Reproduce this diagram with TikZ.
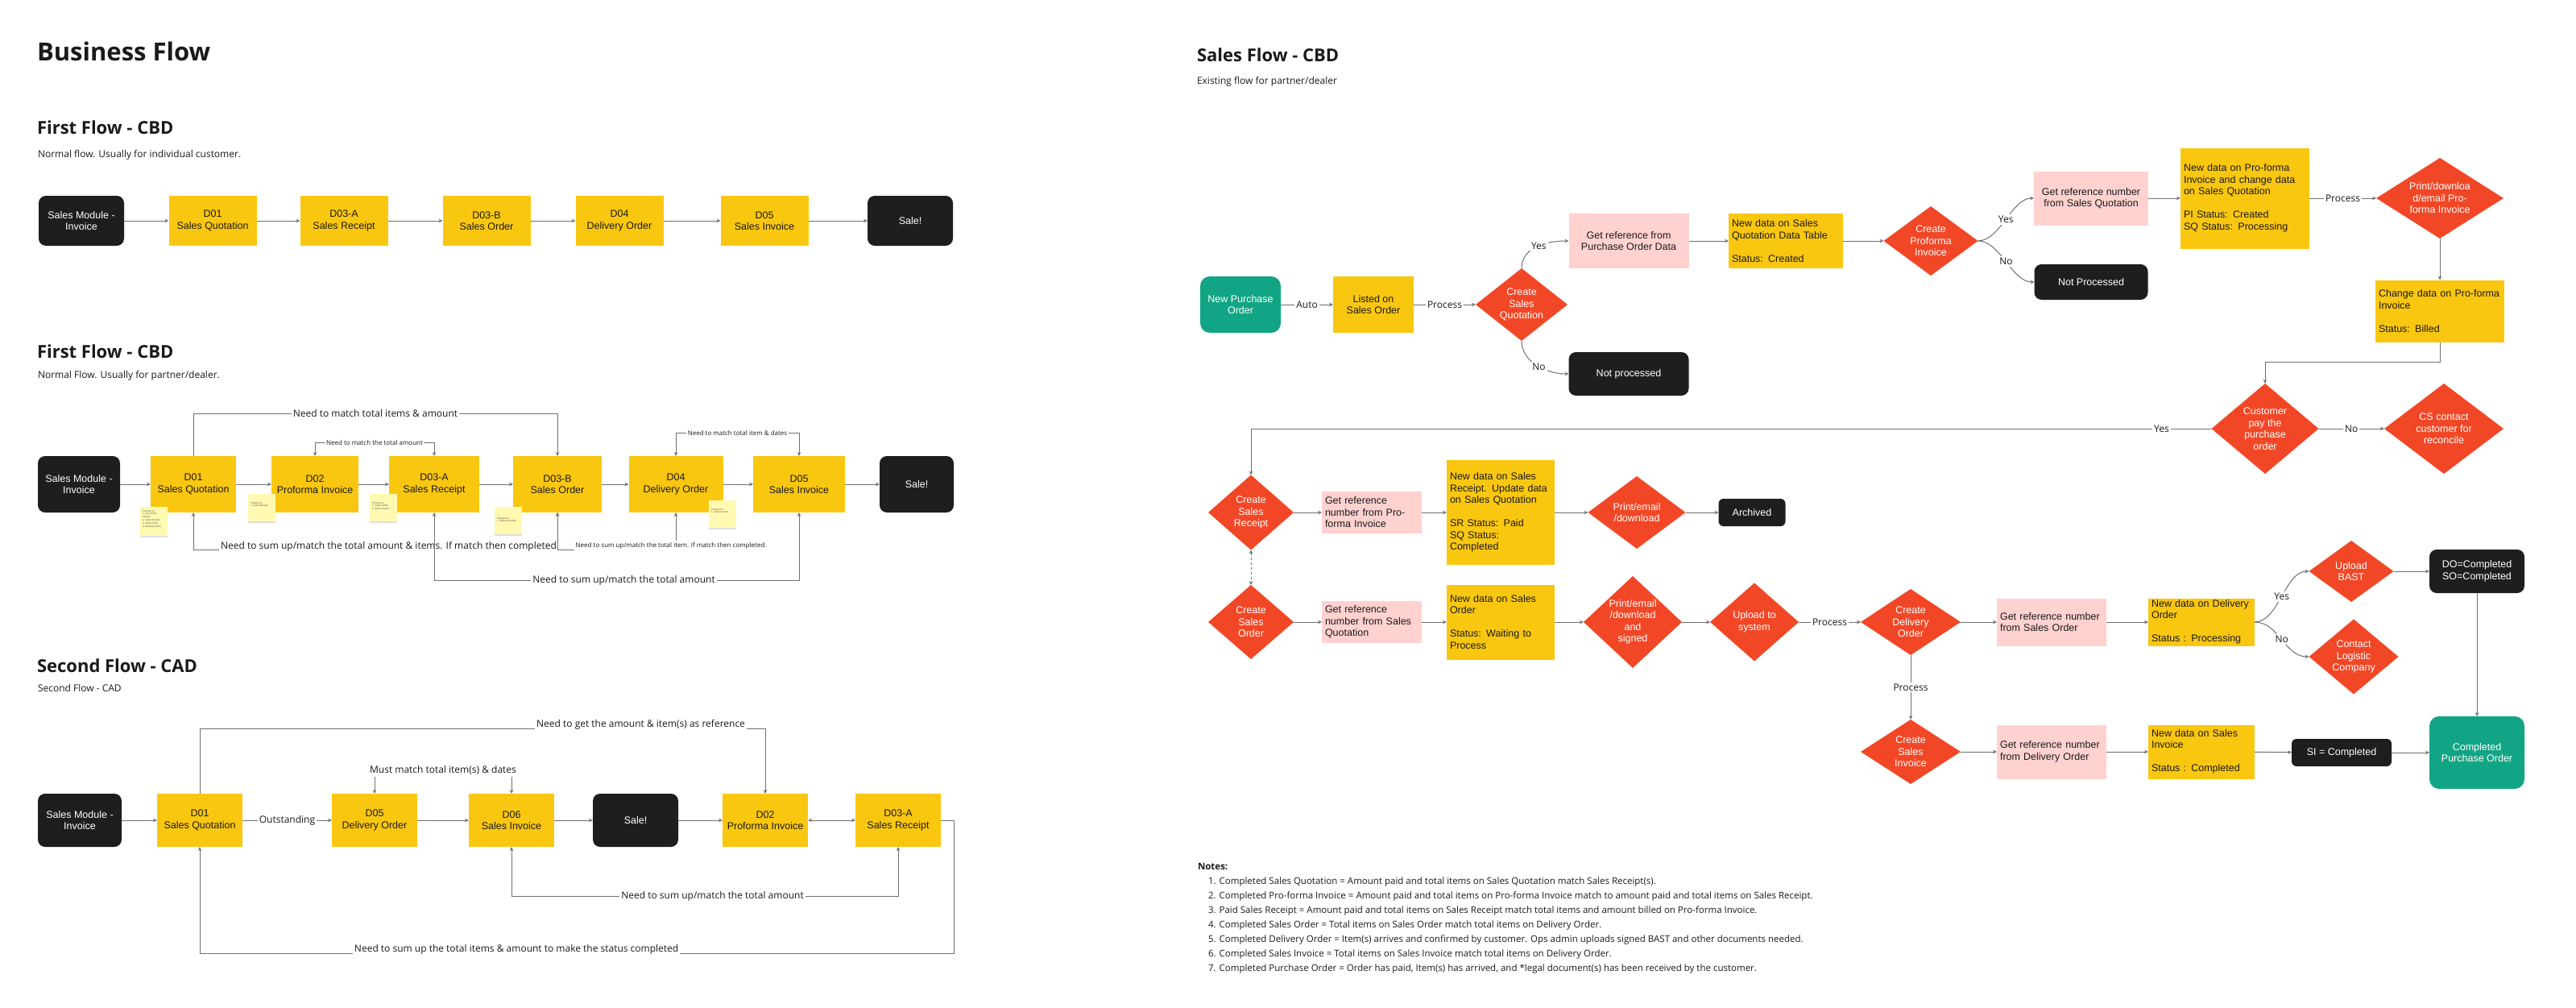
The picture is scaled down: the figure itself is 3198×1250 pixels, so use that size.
\documentclass[tikz,border=0pt]{standalone}
\usepackage{fontspec}
\setmainfont{Open Sans}
\newfontfamily\nf{Liberation Sans}
\usetikzlibrary{shapes.geometric,arrows.meta,shadows}
\definecolor{yel}{HTML}{FAC710}
\definecolor{blk}{HTML}{1E1E1E}
\definecolor{redc}{HTML}{F24726}
\definecolor{pinkc}{HTML}{FFD2D0}
\definecolor{tealc}{HTML}{12A585}
\definecolor{stkc}{HTML}{FFF9B1}
\definecolor{lnc}{HTML}{707070}
\definecolor{txc}{HTML}{1A1A1A}
\newcommand\Dmd[6]{%
  \node[dia, minimum width=#4pt, minimum height=#5pt] (#1) at (#2,#3) {};
  \node[dtx] at (#1.center) {#6};}
\begin{document}
\begin{tikzpicture}[x=1pt,y=-1pt,
 every node/.style={inner sep=0pt,outer sep=0pt},
 nt/.style={font=\nf\fontsize{12.5}{14.5}\selectfont,text=txc},
 sz/.style 2 args={minimum width=#1pt,minimum height=#2pt},
 yb/.style={nt,fill=yel,align=center},
 bk/.style={nt,fill=blk,text=white,rounded corners=9pt,align=center},
 pk/.style={nt,fill=pinkc,align=center},
 tl/.style={nt,fill=tealc,text=white,rounded corners=12pt,align=center},
 lft/.style={align=left,inner xsep=4pt},
 dia/.style={diamond,fill=redc,inner sep=0pt},
 dtx/.style={nt,text=white,align=center},
 stk/.style={fill=stkc,drop shadow={shadow xshift=0pt,shadow yshift=-2pt,opacity=.25}},
 stx/.style={font=\fontsize{3}{3.8}\selectfont,align=left,text=black!75},
 ar/.style={draw=lnc,line width=1pt,-{Stealth[length=5pt,width=4.5pt]}},
 arr/.style={draw=lnc,line width=1pt,{Stealth[length=5pt,width=4.5pt]}-{Stealth[length=5pt,width=4.5pt]}},
 lab/.style={fill=white,inner sep=2pt,text=txc,font=\fontsize{12}{14}\selectfont},
 slab/.style={fill=white,inner sep=1.5pt,text=txc,font=\fontsize{8}{10}\selectfont},
 ttl/.style={anchor=base west,text=txc,font=\bfseries\fontsize{22}{26}\selectfont},
 sub/.style={anchor=base west,text=txc,font=\fontsize{12}{14}\selectfont},
 nts/.style={anchor=base west,text=txc,font=\fontsize{11.5}{14}\selectfont},
]
\fill[white] (0,0) rectangle (3198,1250);
\useasboundingbox (0,0) rectangle (3198,1250);

% ---------- titles
\node[ttl,font=\bfseries\fontsize{31}{36}\selectfont] (t0) at (46,75) {Business Flow};
\node[ttl] (t1) at (46,166) {First Flow - CBD};
\node[sub] (s1) at (47,195) {Normal flow. Usually for individual customer.};
\node[ttl] (t2) at (46,444) {First Flow - CBD};
\node[sub] (s2) at (47,469) {Normal Flow. Usually for partner/dealer.};
\node[ttl] (t3) at (46,834) {Second Flow - CAD};
\node[sub] (s3) at (47,858) {Second Flow - CAD};
\node[ttl] (t4) at (1486,76) {Sales Flow - CBD};
\node[sub] (s4) at (1486,104) {Existing flow for partner/dealer};

% ---------- row 1
\node[bk,sz={106}{62}] (a0) at (101,274) {Sales Module -\\Invoice};
\node[yb,sz={109}{62}] (a1) at (264,274) {D01\\Sales Quotation};
\node[yb,sz={109}{62}] (a2) at (427,274) {D03-A\\Sales Receipt};
\node[yb,sz={109}{62}] (a3) at (604,274) {D03-B\\Sales Order};
\node[yb,sz={109}{62}] (a4) at (769,274) {D04\\Delivery Order};
\node[yb,sz={109}{62}] (a5) at (949,274) {D05\\Sales Invoice};
\node[bk,sz={106}{62}] (a6) at (1130,274) {Sale!};
\foreach \p/\q in {a0/a1,a1/a2,a2/a3,a3/a4,a4/a5,a5/a6} \draw[ar] (\p) -- (\q);

% ---------- row 2
\node[bk,sz={102}{70}] (b0) at (98,601) {Sales Module -\\Invoice};
\node[yb,sz={106}{70}] (b1) at (240,601) {D01\\Sales Quotation};
\node[yb,sz={108}{70}] (b2) at (391,601) {D02\\Proforma Invoice};
\node[yb,sz={112}{70}] (b3) at (539,601) {D03-A\\Sales Receipt};
\node[yb,sz={110}{70}] (b4) at (692,601) {D03-B\\Sales Order};
\node[yb,sz={117}{70}] (b5) at (839,601) {D04\\Delivery Order};
\node[yb,sz={114}{70}] (b6) at (992,601) {D05\\Sales Invoice};
\node[bk,sz={92}{70}] (b7) at (1138,601) {Sale!};
\foreach \p/\q in {b0/b1,b1/b2,b2/b3,b3/b4,b4/b5,b5/b6,b6/b7} \draw[ar] (\p) -- (\q);
\draw[ar] (b1.north) -- ++(0,-53) -| node[lab,pos=.25]{Need to match total items \& amount} (b4.north);
\draw[arr] (b2.north) -- ++(0,-17) -| node[slab,pos=.25]{Need to match the total amount} (b3.north);
\draw[arr] (b5.north) -- ++(0,-29) -| node[slab,pos=.25]{Need to match total item \& dates} (b6.north);
\draw[arr] (b1.south) -- ++(0,46) -| node[lab,pos=.27,yshift=4pt]{Need to sum up/match the total amount \& items. If match then completed.} (b4.south);
\draw[arr] (b4.south) -- ++(0,46) -| node[slab,pos=.48,yshift=5pt]{Need to sum up/match the total item. If match then completed.} (b5.south);
\draw[arr] (b3.south) -- ++(0,84) -| node[lab,pos=.26]{Need to sum up/match the total amount} (b6.south);
% sticky notes
\node[stk,sz={34}{36}] (k1) at (191,647) {};
\node[stx,anchor=north west] at ([shift={(3,4)}]k1.north west) {Process to:\\1. pro forma\\invoice\\2. sales receipt\\3. sales order\\4. delivery order};
\node[stk,sz={34}{34}] (k2) at (325,630) {};
\node[stx,anchor=north west] at ([shift={(3,10)}]k2.north west) {Process to:\\1. Sales Receipt};
\node[stk,sz={34}{34}] (k3) at (476,630) {};
\node[stx,anchor=north west] at ([shift={(3,10)}]k3.north west) {Process to:\\1. Sales Order\\2. Sales Invoice};
\node[stk,sz={34}{34}] (k4) at (631,646) {};
\node[stx,anchor=north west] at ([shift={(3,13)}]k4.north west) {Process to:\\1. Delivery Order};
\node[stk,sz={34}{34}] (k5) at (897,638) {};
\node[stx,anchor=north west] at ([shift={(3,10)}]k5.north west) {Process to:\\1. Sales Invoice};

% ---------- second flow
\node[bk,sz={104}{66}] (c0) at (99,1018) {Sales Module -\\Invoice};
\node[yb,sz={106}{66}] (c1) at (248,1018) {D01\\Sales Quotation};
\node[yb,sz={106}{66}] (c2) at (465,1018) {D05\\Delivery Order};
\node[yb,sz={106}{66}] (c3) at (635,1018) {D06\\Sales Invoice};
\node[bk,sz={106}{66}] (c4) at (789,1018) {Sale!};
\node[yb,sz={106}{66}] (c5) at (950,1018) {D02\\Proforma Invoice};
\node[yb,sz={106}{66}] (c6) at (1115,1018) {D03-A\\Sales Receipt};
\draw[ar] (c0) -- (c1);
\draw[ar] (c1) -- node[lab]{Outstanding} (c2);
\draw[ar] (c2) -- (c3);
\draw[ar] (c3) -- (c4);
\draw[ar] (c4) -- (c5);
\draw[arr] (c5) -- (c6);
\draw[ar] (c1.north) -- ++(0,-81) -| node[lab,pos=.39,yshift=5pt]{Need to get the amount \& item(s) as reference} (c5.north);
\draw[arr] (c2.north) -- ++(0,-29) -| node[lab,pos=.25]{Must match total item(s) \& dates} (c3.north);
\draw[arr] (c3.south) -- ++(0,61) -| node[lab,pos=.26]{Need to sum up/match the total amount} (c6.south);
\draw[ar] (c6.east) -- ++(16,0) -- ++(0,165) -| node[lab,pos=.29,yshift=5pt]{Need to sum up the total items \& amount to make the status completed} (c1.south);

% ---------- sales flow CBD
\node[tl,sz={100}{70}] (npo) at (1540,378) {New Purchase\\Order};
\node[yb,sz={100}{70}] (lso) at (1705,378) {Listed on\\Sales Order};
\Dmd{csq}{1889}{378}{114}{90}{Create\\Sales\\Quotation}
\node[pk,sz={149}{68}] (grpo) at (2022,299) {Get reference from\\Purchase Order Data};
\node[yb,lft,text width=134pt,sz={142}{68}] (ndsq) at (2217,299) {New data on Sales\\Quotation Data Table\\[14.5pt]Status: Created};
\node[bk,sz={149}{54}] (np1) at (2022,464) {Not processed};
\Dmd{cpi}{2397}{299}{117}{86}{Create\\Proforma\\Invoice}
\node[pk,sz={142}{67}] (grsq) at (2596,246) {Get reference number\\from Sales Quotation};
\node[bk,sz={141}{44}] (np2) at (2596,350) {Not Processed};
\node[yb,lft,text width=152pt,sz={160}{125}] (ndpi) at (2787,246) {New data on Pro-forma\\Invoice and change data\\on Sales Quotation\\[14.5pt]PI Status: Created\\SQ Status: Processing};
\Dmd{pdpi}{3029}{246}{158}{100}{Print/downloa\\d/email Pro-\\forma Invoice}
\node[yb,lft,text width=152pt,sz={160}{77}] (cdpi) at (3029,386) {Change data on Pro-forma\\Invoice\\[14.5pt]Status: Billed};
\Dmd{cpay}{2812}{532}{133}{112}{Customer\\pay the\\purchase\\order}
\Dmd{csc}{3034}{532}{148}{112}{CS contact\\customer for\\reconcile}

\Dmd{csr}{1553}{636}{106}{93}{Create\\Sales\\Receipt}
\node[pk,lft,text width=116pt,sz={124}{52}] (grpi) at (1703,636) {Get reference\\number from Pro-\\forma Invoice};
\node[yb,lft,text width=126pt,sz={134}{130}] (ndsr) at (1863,636) {New data on Sales\\Receipt. Update data\\on Sales Quotation\\[14.5pt]SR Status: Paid\\SQ Status:\\Completed};
\Dmd{ped}{2032}{636}{121}{90}{Print/email\\/download}
\node[bk,sz={83}{34},rounded corners=6pt] (arch) at (2175,636) {Archived};

\Dmd{cso}{1553}{772}{106}{92}{Create\\Sales\\Order}
\node[pk,lft,text width=116pt,sz={124}{52}] (grsq2) at (1703,772) {Get reference\\number from Sales\\Quotation};
\node[yb,lft,text width=126pt,sz={134}{93}] (ndso) at (1863,772) {New data on Sales\\Order\\[14.5pt]Status: Waiting to\\Process};
\Dmd{peds}{2027}{772}{122}{114}{Print/email\\/download\\and\\signed}
\Dmd{ups}{2178}{772}{110}{97}{Upload to\\system}
\Dmd{cdo}{2372}{772}{124}{82}{Create\\Delivery\\Order}
\node[pk,lft,text width=128pt,sz={136}{59}] (grso) at (2547,772) {Get reference number\\from Sales Order};
\node[yb,lft,text width=124pt,sz={132}{59}] (ndo) at (2733,772) {New data on Delivery\\Order\\[14.5pt]Status : Processing};
\Dmd{ubast}{2919}{709}{105}{76}{Upload\\BAST}
\Dmd{clc}{2922}{815}{111}{93}{Contact\\Logistic\\Company}
\node[bk,sz={118}{54}] (doc) at (3075,709) {DO=Completed\\SO=Completed};
\node[tl,sz={118}{90}] (cpo) at (3075,934) {Completed\\Purchase Order};
\Dmd{csi}{2372}{933}{124}{80}{Create\\Sales\\Invoice}
\node[pk,lft,text width=128pt,sz={136}{67}] (grdo) at (2547,933) {Get reference number\\from Delivery Order};
\node[yb,lft,text width=124pt,sz={132}{67}] (ndsi) at (2733,933) {New data on Sales\\Invoice\\[14.5pt]Status : Completed};
\node[bk,sz={124}{34},rounded corners=6pt] (sic) at (2907,934) {SI = Completed};

% edges
\draw[ar] (npo) -- node[lab]{Auto} (lso);
\draw[ar] (lso) -- node[lab]{Process} (csq);
\draw[ar] (csq.north) .. controls +(0,-25) and +(-30,0) .. node[lab,pos=.55]{Yes} (grpo.west);
\draw[ar] (csq.south) .. controls +(0,25) and +(-30,0) .. node[lab,pos=.55]{No} (np1.west);
\draw[ar] (grpo) -- (ndsq);
\draw[ar] (ndsq) -- (cpi);
\draw[ar] (cpi.east) .. controls +(28,0) and +(-28,0) .. node[lab,pos=.5]{Yes} (grsq.west);
\draw[ar] (cpi.east) .. controls +(28,0) and +(-28,0) .. node[lab,pos=.5]{No} (np2.west);
\draw[ar] (grsq) -- (ndpi);
\draw[ar] (ndpi) -- node[lab]{Process} (pdpi);
\draw[ar] (pdpi) -- (cdpi);
\draw[ar] (cdpi.south) -- ++(0,25) -| (cpay.north);
\draw[ar] (cpay) -- node[lab]{No} (csc);
\draw[ar] (cpay.west) -| node[lab,pos=.026]{Yes} (csr.north);
\draw[ar] (csr) -- (grpi);
\draw[ar] (grpi) -- (ndsr);
\draw[ar] (ndsr) -- (ped);
\draw[ar] (ped) -- (arch);
\draw[arr,dashed] (csr.south) -- (cso.north);
\draw[ar] (cso) -- (grsq2);
\draw[ar] (grsq2) -- (ndso);
\draw[ar] (ndso) -- (peds);
\draw[ar] (peds) -- (ups);
\draw[ar] (ups) -- node[lab]{Process} (cdo);
\draw[ar] (cdo) -- (grso);
\draw[ar] (grso) -- (ndo);
\draw[ar] (ndo.east) .. controls +(30,0) and +(-30,0) .. node[lab,pos=.5]{Yes} (ubast.west);
\draw[ar] (ndo.east) .. controls +(30,0) and +(-30,0) .. node[lab,pos=.5]{No} (clc.west);
\draw[ar] (ubast) -- (doc);
\draw[ar] (doc) -- (cpo);
\draw[ar] (cdo) -- node[lab]{Process} (csi);
\draw[ar] (csi) -- (grdo);
\draw[ar] (grdo) -- (ndsi);
\draw[ar] (ndsi) -- (sic);
\draw[ar] (sic) -- (cpo);

% notes
\node[nts,font=\bfseries\fontsize{11.5}{14}\selectfont] (nh) at (1487,1079) {Notes:};
\node[nts] (m1) at (1500,1097) {1. Completed Sales Quotation = Amount paid and total items on Sales Quotation match Sales Receipt(s).};
\node[nts] (m2) at (1500,1115) {2. Completed Pro-forma Invoice = Amount paid and total items on Pro-forma Invoice match to amount paid and total items on Sales Receipt.};
\node[nts] (m3) at (1500,1133) {3. Paid Sales Receipt = Amount paid and total items on Sales Receipt match total items and amount billed on Pro-forma Invoice.};
\node[nts] (m4) at (1500,1151) {4. Completed Sales Order = Total items on Sales Order match total items on Delivery Order.};
\node[nts] (m5) at (1500,1169) {5. Completed Delivery Order = Item(s) arrives and confirmed by customer. Ops admin uploads signed BAST and other documents needed.};
\node[nts] (m6) at (1500,1187) {6. Completed Sales Invoice = Total items on Sales Invoice match total items on Delivery Order.};
\node[nts] (m7) at (1500,1205) {7. Completed Purchase Order = Order has paid, Item(s) has arrived, and *legal document(s) has been received by the customer.};
\end{tikzpicture}
\end{document}
